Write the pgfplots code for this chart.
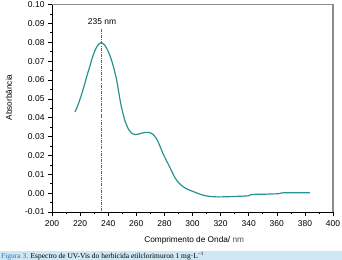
\documentclass[border=0pt]{standalone}
\usepackage{pgfplots}
\pgfplotsset{compat=1.18}
\usepackage{fontspec}
\setmainfont{Liberation Sans}
\newfontfamily\capfont{Liberation Serif}
\definecolor{teal1}{RGB}{40,145,145}
\definecolor{capband}{RGB}{205,232,242}
\definecolor{capblue}{RGB}{50,110,180}
\begin{document}
\begin{tikzpicture}
\useasboundingbox (-52bp,-48bp) rectangle (290bp,212bp);
\begin{axis}[
  scale only axis,
  width=281bp, height=207.5bp,
  at={(0,0)}, anchor=south west,
  xmin=200, xmax=400, ymin=-0.01, ymax=0.10,
  xtick={200,220,...,400},
  ytick={-0.01,0,0.01,0.02,0.03,0.04,0.05,0.06,0.07,0.08,0.09,0.10},
  minor tick num=1,
  tick align=outside,
  xtick pos=bottom, ytick pos=left,
  major tick length=4bp, minor tick length=2bp,
  tick style={black, line width=0.6pt},
  axis line style={line width=0.7pt},
  yticklabel style={/pgf/number format/.cd, fixed, fixed zerofill, precision=2},
  /pgf/number format/assume math mode=true,
  ticklabel style={font=\fontsize{8.5}{10}\selectfont},
  xticklabel style={yshift=-1bp},
  scaled y ticks=false,
  xlabel={Comprimento de Onda/ {\color{black!70}nm}},
  ylabel={Absorbância},
  label style={font=\fontsize{8.3}{10}\selectfont},
  xlabel style={at={(axis description cs:0.506,-0.135)}, anchor=center},
  ylabel style={at={(axis description cs:-0.153,0.552)}, anchor=center, rotate=0},
  clip=false,
]
\addplot[teal1, line width=1.2pt, smooth, tension=0.4] coordinates {
(216.4,0.0430) (218,0.0458) (219.5,0.0488) (221,0.0522) (223,0.0572)
(225,0.0625) (227,0.0674) (229,0.0725) (231,0.0763) (233,0.0788)
(234.5,0.0797) (236,0.0794) (238,0.0780) (240,0.0752) (242,0.0713)
(243.6,0.0674) (246,0.0600) (248.4,0.0495) (250,0.0438) (252,0.0382)
(254,0.0345) (255.5,0.0328) (257,0.0316) (259,0.0311) (261,0.0312)
(263,0.0316) (265.5,0.0321) (268.5,0.0322) (271,0.0316) (273,0.0303)
(275,0.0280) (277,0.0246) (279,0.0210) (281.5,0.0172) (284,0.0135)
(287.5,0.0082) (290,0.0056) (293,0.0036) (296,0.0022) (300,0.0010)
(304,-0.0002) (308,-0.0012) (313,-0.0018) (318,-0.0020) (325,-0.0019)
(332,-0.0017) (339.8,-0.0014) (342,-0.0007) (350,-0.0006) (358,-0.0004)
(361,-0.0003) (364.7,0.0002) (372,0.0002) (383.6,0.0002)
};
\addplot[black!60, line width=0.6pt, dash pattern=on 3pt off 1.2pt on 0.8pt off 1.2pt] coordinates {(235,0.087) (235,-0.01)};
\node[font=\fontsize{8.5}{10}\selectfont] at (axis cs:235.6,0.0912) {235 nm};
\draw[black!45, line width=0.9pt] (rel axis cs:0,1) -- (rel axis cs:1,1);
\draw[black!45, line width=1.6pt] (rel axis cs:1,1) -- (rel axis cs:1,0);
\end{axis}
\fill[capband] (-52bp,-48bp) rectangle (290bp,-39bp);
\node[anchor=base west, inner sep=0pt, font=\capfont\fontsize{7.5}{8}\selectfont] at (-51bp,-46.3bp)
  {{\color{capblue}Figura 3.} Espectro de UV-Vis do herbicida etilclorimuron 1 mg·L\textsuperscript{−1}};
\end{tikzpicture}
\end{document}
